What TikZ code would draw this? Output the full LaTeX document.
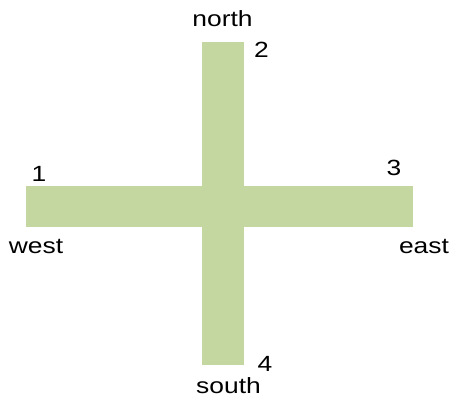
\documentclass[tikz,border=0pt]{standalone}
\usepackage{fontspec}
\setmainfont{Liberation Sans}
\definecolor{barfill}{RGB}{197,215,160}
\newcommand\stretchlbl[1]{\scalebox{1.2}[1]{#1}}
\begin{document}
\begin{tikzpicture}[x=0.75pt,y=-0.75pt,
  bar/.style={fill=barfill,draw=none},
  lbl/.style={inner sep=0pt,anchor=base,font=\fontsize{16.5}{20}\selectfont}]
\useasboundingbox (0,0) rectangle (450,403);
\fill[white] (0,0) rectangle (450,403);
\path[bar] (202,42) rectangle (244,365);
\path[bar] (26,186) rectangle (413,227);
\node[lbl] (north) at (222.5,27) {\stretchlbl{north}};
\node[lbl] (n2) at (261.5,58) {\stretchlbl{2}};
\node[lbl] (n1) at (39,181) {\stretchlbl{1}};
\node[lbl] (n3) at (394,175) {\stretchlbl{3}};
\node[lbl] (west) at (36,253) {\stretchlbl{west}};
\node[lbl] (east) at (424,253) {\stretchlbl{east}};
\node[lbl] (n4) at (265,371) {\stretchlbl{4}};
\node[lbl] (south) at (228.5,393) {\stretchlbl{south}};
\end{tikzpicture}
\end{document}
